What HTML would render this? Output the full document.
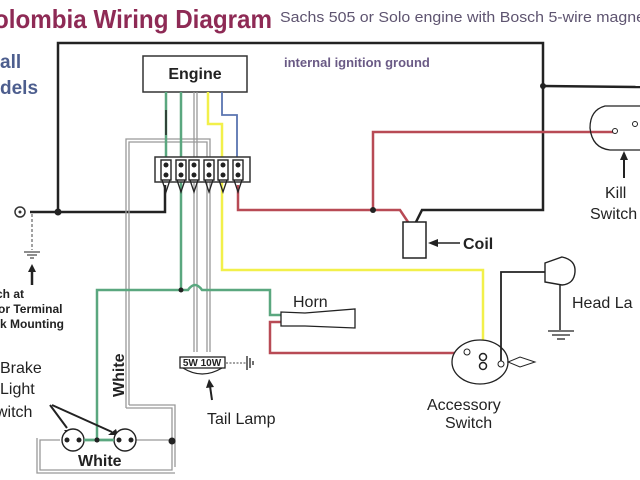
<!DOCTYPE html>
<html><head><meta charset="utf-8"><style>
html,body{margin:0;padding:0;background:#fff}
svg{display:block}
text{font-family:"Liberation Sans",sans-serif}
</style></head><body>
<svg width="640" height="480" viewBox="0 0 640 480" xmlns="http://www.w3.org/2000/svg">
<rect width="640" height="480" fill="#fff"/>
<text x="-6" y="28" font-size="26" font-weight="bold" fill="#8e2a55" textLength="278" lengthAdjust="spacingAndGlyphs">olombia Wiring Diagram</text>
<text x="280" y="22" font-size="15" fill="#5e5470" textLength="365" lengthAdjust="spacingAndGlyphs">Sachs 505 or Solo engine with Bosch 5-wire magne</text>
<text x="0" y="68" font-size="19" font-weight="bold" fill="#4d5e8e">all</text>
<text x="0" y="94" font-size="19" font-weight="bold" fill="#4d5e8e">dels</text>
<text x="284" y="67" font-size="13" font-weight="bold" fill="#6a5a85">internal ignition ground</text>

<g fill="none" stroke="#222" stroke-width="2.5">
<polyline points="58,212 58,43 543,43 543,210 422,210 416,222"/>
<line x1="543" y1="86" x2="640" y2="87"/>
<polyline points="30,212 165,212 165,185"/>
</g>
<circle cx="58" cy="212" r="3.5" fill="#222"/>
<circle cx="543" cy="86" r="3" fill="#222"/>
<circle cx="20" cy="212" r="5" fill="none" stroke="#333" stroke-width="1.5"/>
<circle cx="20" cy="212" r="1.5" fill="#333"/>
<line x1="32" y1="214" x2="32" y2="250" stroke="#444" stroke-width="1" stroke-dasharray="3,2"/>
<g stroke="#444" stroke-width="1.2"><line x1="24" y1="252" x2="40" y2="252"/><line x1="27" y1="255" x2="37" y2="255"/><line x1="30" y1="258" x2="34" y2="258"/></g>
<line x1="32" y1="285" x2="32" y2="270" stroke="#222" stroke-width="2.5"/>
<polygon points="28,272 36,272 32,264" fill="#222"/>
<g font-size="12" font-weight="bold" fill="#222">
<text x="-4" y="298">ch at</text><text x="-2" y="313">or Terminal</text><text x="0" y="328">k Mounting</text></g>

<rect x="143" y="56" width="104" height="36" fill="#fff" stroke="#333" stroke-width="1.5"/>
<text x="195" y="79" font-size="16" font-weight="bold" text-anchor="middle" fill="#222">Engine</text>

<g fill="none" stroke="#999" stroke-width="1.3">
<polyline points="126,408 126,139 210,139 210,352"/>
<polyline points="129,405 129,142 207,142 207,352"/>
<polyline points="126,408 172,408 172,470 40,470 40,440 60,440"/>
<polyline points="129,405 175,405 175,467"/>
<polyline points="37,438 37,473 175,473"/>
<line x1="136" y1="440" x2="172" y2="440"/>
<line x1="194" y1="92" x2="194" y2="352"/><line x1="197" y1="92" x2="197" y2="352"/>
</g>
<circle cx="172" cy="441" r="3.5" fill="#222"/>

<g fill="none" stroke="#5aa77f" stroke-width="2.5">
<line x1="166" y1="92" x2="166" y2="160"/>
<line x1="181" y1="92" x2="181" y2="290"/>
<path d="M97,440 L97,290 L188,290 Q195,280 202,290 L270,290 L270,315 L282,315"/>
<line x1="85" y1="440" x2="125" y2="440"/>
</g>
<line x1="166" y1="110" x2="166" y2="135" stroke="#222" stroke-width="1.5"/>
<circle cx="181" cy="290" r="2.5" fill="#222"/>
<circle cx="97" cy="440" r="2.5" fill="#222"/>
<g fill="none" stroke="#f2f04a" stroke-width="2.5">
<polyline points="208,92 208,124 222,124 222,270 483,270 483,352"/>
</g>
<polyline points="222,92 222,115 237,115 237,160" fill="none" stroke="#5a74b0" stroke-width="1.8"/>
<g fill="none" stroke="#b84a55" stroke-width="2.5">
<polyline points="238,185 238,210 373,210 373,132 615,132"/>
<polyline points="373,210 400,210 408,222"/>
<polyline points="282,322 270,322 270,353 465,353"/>
</g>
<circle cx="373" cy="210" r="3" fill="#222"/>

<rect x="155" y="157" width="95" height="25" fill="#fff" stroke="#333" stroke-width="1.5"/>
<g fill="#fff" stroke="#222" stroke-width="1.4">
<rect x="161" y="160" width="10" height="20"/><rect x="176" y="160" width="10" height="20"/><rect x="189" y="160" width="10" height="20"/>
<rect x="204" y="160" width="10" height="20"/><rect x="218" y="160" width="10" height="20"/><rect x="233" y="160" width="10" height="20"/>
</g>
<g fill="#222"><circle cx="166" cy="165" r="2.5"/><circle cx="166" cy="175" r="2.5"/><circle cx="181" cy="165" r="2.5"/><circle cx="181" cy="175" r="2.5"/><circle cx="194" cy="165" r="2.5"/><circle cx="194" cy="175" r="2.5"/><circle cx="209" cy="165" r="2.5"/><circle cx="209" cy="175" r="2.5"/><circle cx="223" cy="165" r="2.5"/><circle cx="223" cy="175" r="2.5"/><circle cx="238" cy="165" r="2.5"/><circle cx="238" cy="175" r="2.5"/></g>
<g fill="none" stroke="#222" stroke-width="1.3">
<path d="M162,180 L166,192 L170,180 M177,180 L181,192 L185,180 M190,180 L194,192 L198,180 M205,180 L209,192 L213,180 M219,180 L223,192 L227,180 M234,180 L238,192 L242,180"/></g>

<rect x="403" y="222" width="23" height="36" fill="#fff" stroke="#222" stroke-width="1.5"/>
<line x1="460" y1="243" x2="432" y2="243" stroke="#222" stroke-width="1.5"/>
<polygon points="428,243 438,239 438,247" fill="#222"/>
<text x="463" y="249" font-size="16" font-weight="bold" fill="#222">Coil</text>

<path d="M640,106 L605,106 Q590,110 590,128 Q592,148 610,150 L640,150" fill="none" stroke="#222" stroke-width="1.3"/>
<circle cx="615" cy="131" r="2.5" fill="#fff" stroke="#222"/>
<circle cx="635" cy="124" r="2.5" fill="#fff" stroke="#222"/>
<line x1="624" y1="178" x2="624" y2="158" stroke="#222" stroke-width="2"/>
<polygon points="620,160 628,160 624,151" fill="#222"/>
<text x="605" y="198" font-size="16" fill="#222">Kill</text>
<text x="590" y="219" font-size="16" fill="#222">Switch</text>

<text x="293" y="307" font-size="16" fill="#222">Horn</text>
<path d="M281,312 L281,326 L305,326 L355,328 L355,309 L305,313 Z" fill="#fff" stroke="#222" stroke-width="1.3"/>

<ellipse cx="480" cy="362" rx="28" ry="22" fill="#fff" stroke="#222" stroke-width="1.3"/>
<circle cx="467" cy="352" r="3" fill="#fff" stroke="#222"/>
<circle cx="483" cy="357" r="3.5" fill="#fff" stroke="#222" stroke-width="1.5"/>
<circle cx="483" cy="366" r="3.5" fill="#fff" stroke="#222" stroke-width="1.5"/>
<circle cx="501" cy="364" r="3" fill="#fff" stroke="#222"/>
<path d="M508,362 L520,357 L535,362 L520,367 Z" fill="#fff" stroke="#222"/>
<polyline points="501,361 501,272 545,272" fill="none" stroke="#222" stroke-width="1.8"/>
<path d="M545,263 L562,257 Q576,260 575,272 Q574,284 562,285 L545,282 Z" fill="#fff" stroke="#222" stroke-width="1.4"/>
<line x1="560" y1="285" x2="560" y2="330" stroke="#222" stroke-width="1.5"/>
<g stroke="#222" stroke-width="1.3"><line x1="548" y1="331" x2="574" y2="331"/><line x1="552" y1="335" x2="570" y2="335"/><line x1="557" y1="339" x2="565" y2="339"/></g>
<text x="572" y="308" font-size="16" fill="#222">Head La</text>
<text x="427" y="410" font-size="16" fill="#222">Accessory</text>
<text x="445" y="428" font-size="16" fill="#222">Switch</text>

<rect x="180" y="357" width="45" height="11" fill="#fff" stroke="#222" stroke-width="1.3"/>
<text x="202" y="366" font-size="10" font-weight="bold" text-anchor="middle" fill="#222">5W 10W</text>
<path d="M183,368 Q202,380 222,368" fill="none" stroke="#222" stroke-width="1.3"/>
<line x1="226" y1="363" x2="246" y2="363" stroke="#444" stroke-dasharray="2,1.5"/>
<g stroke="#222" stroke-width="1.3"><line x1="247" y1="356" x2="247" y2="370"/><line x1="250" y1="358" x2="250" y2="368"/><line x1="253" y1="361" x2="253" y2="365"/></g>
<line x1="212" y1="400" x2="210" y2="386" stroke="#222" stroke-width="2"/>
<polygon points="206,388 214,387 209,379" fill="#222"/>
<text x="207" y="424" font-size="16" fill="#222">Tail Lamp</text>

<text x="0" y="373" font-size="16" fill="#222">Brake</text>
<text x="0" y="394" font-size="16" fill="#222">Light</text>
<text x="-4" y="417" font-size="16" fill="#222">witch</text>
<g fill="none" stroke="#222" stroke-width="2"><line x1="50" y1="405" x2="67" y2="428"/><line x1="52" y1="405" x2="112" y2="432"/></g>
<polygon points="64,430 72,430 69,436" fill="#222"/>
<polygon points="108,435 116,429 118,435" fill="#222"/>
<circle cx="73" cy="440" r="11" fill="#fff" stroke="#222" stroke-width="1.4"/>
<circle cx="125" cy="440" r="11" fill="#fff" stroke="#222" stroke-width="1.4"/>
<g fill="#222"><circle cx="67" cy="440" r="2.5"/><circle cx="79" cy="440" r="2.5"/><circle cx="119" cy="440" r="2.5"/><circle cx="131" cy="440" r="2.5"/></g>
<line x1="84" y1="440" x2="114" y2="440" stroke="#5aa77f" stroke-width="2.5"/>
<circle cx="97" cy="440" r="2.5" fill="#222"/>
<text x="78" y="466" font-size="16" font-weight="bold" fill="#222">White</text>
<text transform="translate(124,397) rotate(-90)" font-size="16" font-weight="bold" fill="#222">White</text>
</svg>
</body></html>
